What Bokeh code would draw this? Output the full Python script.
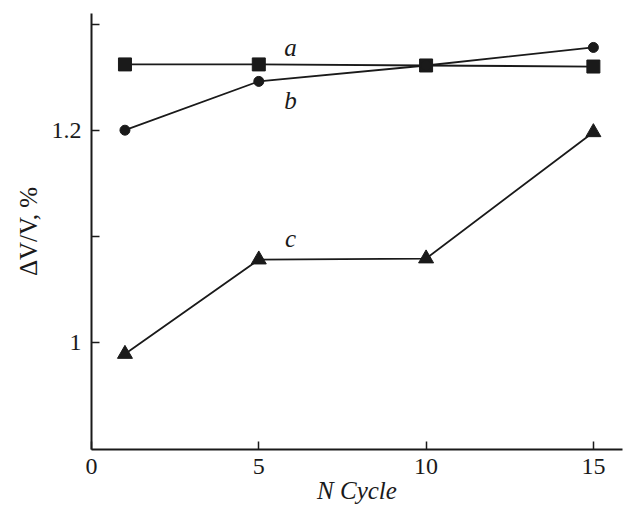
from bokeh.plotting import figure
from bokeh.models import FixedTicker, Range1d
from bokeh.core.properties import value
from bokeh.embed import file_html
from bokeh.resources import INLINE

cycles = [1, 5, 10, 15]
series_a = [1.262, 1.262, 1.261, 1.260]
series_b = [1.200, 1.246, 1.261, 1.278]
series_c = [0.989, 1.078, 1.079, 1.198]
x_ticks = [0, 5, 10, 15]
y_ticks = [1.0, 1.1, 1.2, 1.3]
y_labels = {1.0: "1", 1.1: "", 1.2: "1.2", 1.3: ""}
curve_names = ["a", "b", "c"]

FONT = "Liberation Serif"

p = figure(width=623, height=510, output_backend="svg", toolbar_location=None,
           x_range=Range1d(0, 15.87), y_range=Range1d(0.899, 1.31))
p.min_border_left = 91
p.min_border_right = 1
p.min_border_top = 13
p.min_border_bottom = 61
p.outline_line_color = None
p.grid.visible = False
p.background_fill_color = "white"

for ax in (p.xaxis[0], p.yaxis[0]):
    ax.axis_line_width = 2
    ax.axis_line_color = "#1a1a1a"
    ax.major_tick_in = 8
    ax.major_tick_out = 0
    ax.major_tick_line_width = 1.5
    ax.major_tick_line_color = "#1a1a1a"
    ax.minor_tick_line_color = None
    ax.major_label_text_font = FONT
    ax.major_label_text_font_size = "24px"
    ax.major_label_text_color = "#1a1a1a"
    ax.axis_label_text_font = FONT
    ax.axis_label_text_font_size = "25px"
    ax.axis_label_text_color = "#1a1a1a"

p.xaxis.ticker = FixedTicker(ticks=x_ticks)
p.yaxis.ticker = FixedTicker(ticks=y_ticks)
p.yaxis.major_label_overrides = y_labels
p.xaxis.axis_label = "N Cycle"
p.xaxis.axis_label_text_font_style = "italic"
p.xaxis.major_label_standoff = 9
p.xaxis.axis_label_standoff = 0
p.yaxis.axis_label = "ΔV/V, %"
p.yaxis.axis_label_text_font_style = "normal"
p.yaxis.major_label_standoff = 10
p.yaxis.axis_label_standoff = 7

col = "#1a1a1a"
p.line(cycles, series_a, line_color=col, line_width=1.8)
p.scatter(cycles, series_a, marker="square", size=13, color=col)
p.line(cycles, series_b, line_color=col, line_width=1.8)
p.scatter(cycles, series_b, marker="circle", size=10, color=col)
p.line(cycles, series_c, line_color=col, line_width=1.8)
p.scatter(cycles, series_c, marker="triangle", size=15, color=col)

p.text(x=[5.95, 5.95, 5.95], y=[1.278, 1.228, 1.098], text=curve_names,
       text_font=value(FONT), text_font_style="italic", text_font_size="25px",
       text_align="center", text_baseline="middle", text_color=col)

open("out.html", "w").write(file_html(p, INLINE))
